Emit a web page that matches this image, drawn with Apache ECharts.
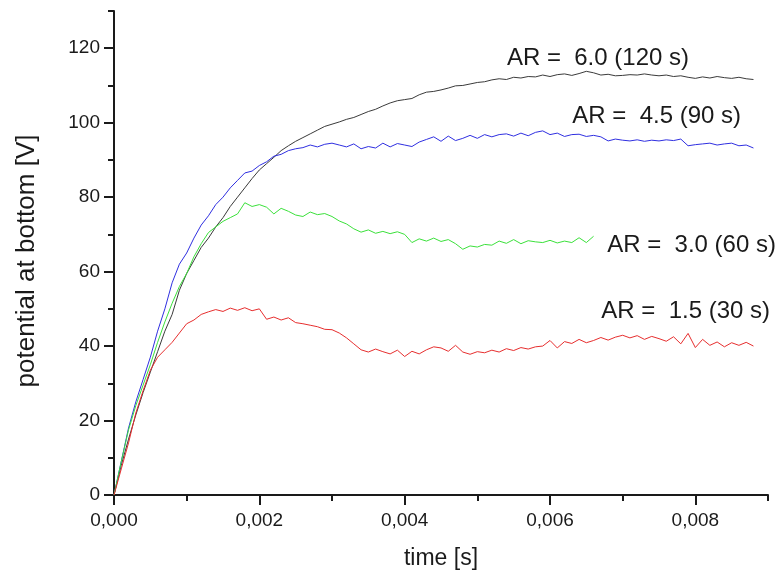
<!DOCTYPE html>
<html>
<head>
    <meta charset="utf-8">
    <title>potential at bottom</title>
    <script src="https://cdn.jsdelivr.net/npm/echarts@6/dist/echarts.min.js"></script>
    <style>
        html, body { margin: 0; padding: 0; background: #fff; }
        #chart { width: 781px; height: 575px; }
    </style>
</head>
<body>
<div id="chart"></div>
<script>
    // time step of the samples [s]
    var dt = 0.0001;

    // AR = 6.0 (120 s), black
    var ar60 = [0, 8, 15, 21.5, 27.5, 33, 38.5, 44, 48.5, 55,
        59.5, 63, 66.5, 69, 72, 74.5, 77.5, 80, 82.5, 85,
        87.3, 89, 90.7, 92.5, 93.8, 95, 96, 97, 98, 99,
        99.6, 100.2, 100.9, 101.4, 102.2, 103, 103.6, 104.5, 105.3, 105.9,
        106.2, 106.5, 107.5, 108.2, 108.4, 108.8, 109.3, 109.9, 110, 110.4,
        110.8, 111, 111.5, 111.8, 111.6, 112.2, 112, 112.4, 112.3, 112.8,
        112.4, 112.9, 113.1, 112.7, 113.2, 113.8, 113.4, 112.8, 113, 112.6,
        112.7, 112.9, 112.8, 113.1, 112.8, 112.6, 112.8, 112.4, 112.6, 112.2,
        111.9, 112.3, 112, 112.4, 112.1, 111.9, 112.2, 111.8, 111.6];

    // AR = 4.5 (90 s), blue
    var ar45 = [0, 9, 18, 25, 31, 37, 44, 50, 57, 62,
        65, 69, 72.5, 75, 78, 80, 82.5, 84.5, 86.5, 87,
        88.5, 89.5, 91, 91.5, 92.5, 93, 93.3, 94, 93.5, 94.2,
        94.5, 94, 93.5, 94.3, 93, 93.6, 93.2, 94.5, 93.5, 94.4,
        94, 93.6, 94.8, 95.5, 96.2, 95, 96.4, 95.2, 95.8, 96.6,
        95.8, 96.8, 96.2, 96.8, 97, 96.4, 97.2, 96.5, 97.4, 97.8,
        96.8, 97.2, 96.3, 96.8, 96.9, 96.3, 96.6, 96.2, 95.1, 95.6,
        95.3, 95.1, 95.4, 95, 95.3, 95.1, 95.4, 95.2, 95.6, 93.8,
        94.1, 94.3, 94.5, 94, 94.3, 94.5, 93.8, 94, 93.2];

    // AR = 3.0 (60 s), green
    var ar30 = [0, 9, 17.5, 24, 29.5, 35, 41, 46.5, 51.5, 56,
        59.5, 64, 67.5, 70.5, 72, 73.5, 74.5, 75.5, 78.5, 77.5,
        78, 77.3, 75.5, 77, 76.2, 75.2, 74.8, 76, 75.3, 75.6,
        74.8, 73.6, 72.8, 71.5, 70.6, 71.2, 70.3, 70.8, 70.2, 70.7,
        70, 67.8, 68.8, 68.2, 69, 68.1, 68.6, 67.5, 66, 66.9,
        66.6, 67.3, 67.1, 68.2, 67.6, 68.6, 67.5, 68.3, 68, 67.8,
        68.4, 67.7, 68.2, 67.8, 69.1, 67.8, 69.5];

    // AR = 1.5 (30 s), red
    var ar15 = [0, 7, 14, 22, 28, 33.5, 37, 39, 41, 43.5,
        46, 47, 48.5, 49.2, 49.8, 49.3, 50.2, 49.6, 50.3, 49.5,
        50, 47.2, 47.8, 47, 47.6, 46.3, 46, 45.6, 45.2, 44.5,
        44.4, 43.5, 42.2, 40.6, 39, 38.4, 39.2, 38.5, 37.9, 38.9,
        37.2, 38.6, 37.9, 39, 39.8, 39.5, 38.6, 40.2, 38.4, 37.8,
        38.5, 38.2, 38.9, 38.4, 39.3, 38.8, 39.6, 39.2, 39.8, 40,
        41.5, 39.5, 41.2, 40.7, 41.8, 40.9, 41.5, 42.3, 41.6, 42.4,
        42.9, 42.2, 42.8, 41.8, 42.6, 42, 41.3, 42.5, 40.6, 43.4,
        39.6, 41.8, 40.2, 41.1, 39.8, 40.9, 40.2, 41, 40];

    // tick values
    var xMajor = [0, 0.002, 0.004, 0.006, 0.008];
    var xMinor = [0.001, 0.003, 0.005, 0.007, 0.009];
    var yMajor = [0, 20, 40, 60, 80, 100, 120];
    var yMinor = [10, 30, 50, 70, 90, 110, 130];

    // label anchors [t, value] and texts
    var labelText = ['AR =  6.0 (120 s)', 'AR =  4.5 (90 s)', 'AR =  3.0 (60 s)', 'AR =  1.5 (30 s)'];
    var labelAt = [[0.0054, 117.3], [0.0063, 101.7], [0.00678, 67], [0.0067, 49.2]];

    function toPairs(arr) {
        return arr.map(function (v, i) { return [+(i * dt).toFixed(5), v]; });
    }

    var font = 'Arial, "Liberation Sans", sans-serif';
    var ink = '#1a1a1a';

    function line(name, data, color, k) {
        return {
            name: name,
            type: 'line',
            data: toPairs(data),
            showSymbol: false,
            symbol: 'none',
            lineStyle: {color: color, width: 1},
            markPoint: {
                symbol: 'circle',
                symbolSize: 1,
                itemStyle: {color: 'rgba(0,0,0,0)'},
                label: {
                    show: true,
                    position: 'right',
                    distance: 0,
                    formatter: labelText[k],
                    color: ink,
                    fontFamily: font,
                    fontSize: 24
                },
                data: [{coord: labelAt[k]}]
            }
        };
    }

    var chart = echarts.init(document.getElementById('chart'));

    var option = {
        animation: false,
        backgroundColor: '#fff',
        grid: {left: 114, right: 13, top: 11, bottom: 80},
        xAxis: [
            {
                type: 'value',
                min: 0,
                max: 0.009,
                interval: 0.001,
                name: 'time [s]',
                nameLocation: 'middle',
                nameGap: 52,
                nameTextStyle: {color: ink, fontFamily: font, fontSize: 23},
                axisLine: {lineStyle: {color: ink, width: 2}},
                axisTick: {customValues: xMajor, length: 10, lineStyle: {color: ink, width: 2}},
                axisLabel: {
                    customValues: xMajor,
                    color: ink, fontFamily: font, fontSize: 19, margin: 16,
                    formatter: function (v) { return v.toFixed(3).replace('.', ','); }
                },
                splitLine: {show: false}
            },
            {
                type: 'value',
                min: 0,
                max: 0.009,
                interval: 0.001,
                position: 'bottom',
                axisLine: {show: false},
                axisTick: {customValues: xMinor, length: 6, lineStyle: {color: ink, width: 2}},
                axisLabel: {show: false},
                splitLine: {show: false}
            }
        ],
        yAxis: [
            {
                type: 'value',
                min: 0,
                max: 130,
                interval: 10,
                name: 'potential at bottom [V]',
                nameLocation: 'middle',
                nameGap: 74,
                nameTextStyle: {color: ink, fontFamily: font, fontSize: 26, padding: [0, 16, 0, 0]},
                axisLine: {show: true, lineStyle: {color: ink, width: 2}},
                axisTick: {show: true, customValues: yMajor, length: 10, lineStyle: {color: ink, width: 2}},
                axisLabel: {customValues: yMajor, color: ink, fontFamily: font, fontSize: 19, margin: 14},
                splitLine: {show: false}
            },
            {
                type: 'value',
                min: 0,
                max: 130,
                interval: 10,
                position: 'left',
                axisLine: {show: false},
                axisTick: {show: true, customValues: yMinor, length: 6, lineStyle: {color: ink, width: 2}},
                axisLabel: {show: false},
                splitLine: {show: false}
            }
        ],
        series: [
            line('AR 6.0', ar60, '#3a3a3a', 0),
            line('AR 4.5', ar45, '#2f2fe0', 1),
            line('AR 3.0', ar30, '#3be03b', 2),
            line('AR 1.5', ar15, '#e62e2e', 3)
        ]
    };

    chart.setOption(option);
</script>
</body>
</html>
